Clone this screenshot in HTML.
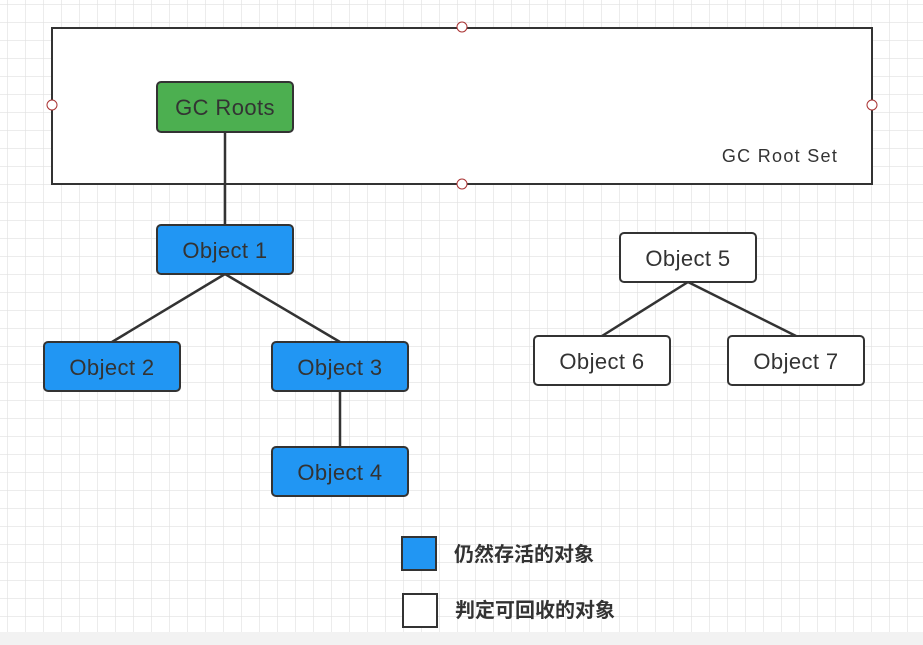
<!DOCTYPE html>
<html><head><meta charset="utf-8"><style>
html,body{margin:0;padding:0;background:#fff;}
svg{display:block}
text{font-family:"Liberation Sans","Noto Sans CJK SC",sans-serif;}
</style></head><body>
<svg width="923" height="645" viewBox="0 0 923 645" xmlns="http://www.w3.org/2000/svg">
<defs>
<pattern id="g" x="7" y="4" width="18" height="18" patternUnits="userSpaceOnUse">
<path d="M0 0H18M0 0V18" stroke="#e0e0e0" stroke-width="1.2" fill="none"/>
</pattern>
</defs>
<rect width="923" height="632" fill="url(#g)"/>
<rect y="632" width="923" height="13" fill="#f2f2f2"/>
<rect x="52" y="28" width="820" height="156" fill="#fff" stroke="#333" stroke-width="2"/>
<g fill="#fff" stroke="#a33" stroke-width="1">
<circle cx="462" cy="27" r="5"/><circle cx="462" cy="184" r="5"/>
<circle cx="52" cy="105" r="5"/><circle cx="872" cy="105" r="5"/>
</g>
<text x="780" y="162" font-size="18" fill="#333" text-anchor="middle" letter-spacing="1.3">GC Root Set</text>
<g stroke="#333" stroke-width="2.5" fill="none">
<path d="M225 132V226"/>
<path d="M225 274L112 342M225 274L340 342"/>
<path d="M340 390V448"/>
<path d="M688 282L602 336M688 282L796 336"/>
</g>
<g font-size="22" text-anchor="middle" fill="#333" letter-spacing="0.4">
<rect x="157" y="82" width="136" height="50" rx="4" fill="#4caf50" stroke="#333" stroke-width="2"/>
<text x="225" y="115">GC Roots</text>
<rect x="157" y="225" width="136" height="49" rx="4" fill="#2196f3" stroke="#333" stroke-width="2"/>
<text x="225" y="258">Object 1</text>
<rect x="44" y="342" width="136" height="49" rx="4" fill="#2196f3" stroke="#333" stroke-width="2"/>
<text x="112" y="375">Object 2</text>
<rect x="272" y="342" width="136" height="49" rx="4" fill="#2196f3" stroke="#333" stroke-width="2"/>
<text x="340" y="375">Object 3</text>
<rect x="272" y="447" width="136" height="49" rx="4" fill="#2196f3" stroke="#333" stroke-width="2"/>
<text x="340" y="480">Object 4</text>
<rect x="620" y="233" width="136" height="49" rx="4" fill="#fff" stroke="#333" stroke-width="2"/>
<text x="688" y="266">Object 5</text>
<rect x="534" y="336" width="136" height="49" rx="4" fill="#fff" stroke="#333" stroke-width="2"/>
<text x="602" y="369">Object 6</text>
<rect x="728" y="336" width="136" height="49" rx="4" fill="#fff" stroke="#333" stroke-width="2"/>
<text x="796" y="369">Object 7</text>
</g>
<rect x="402" y="537" width="34" height="33" fill="#2196f3" stroke="#333" stroke-width="2"/>
<rect x="403" y="594" width="34" height="33" fill="#fff" stroke="#333" stroke-width="2"/>
<g font-size="20" font-weight="bold" fill="#333">
<text x="454" y="561">仍然存活的对象</text>
<text x="455" y="617">判定可回收的对象</text>
</g>
</svg>
</body></html>
